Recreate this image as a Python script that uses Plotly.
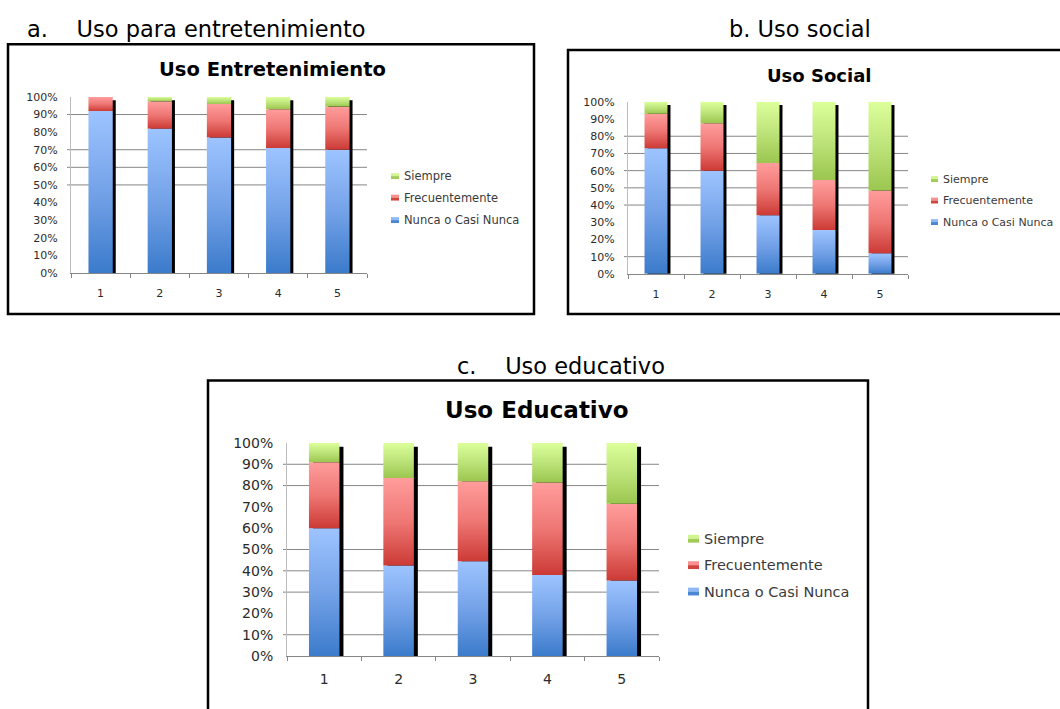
import plotly.graph_objects as go

# ---------------------------------------------------------------- data
categorias = ["1", "2", "3", "4", "5"]
series = ["Nunca o Casi Nunca", "Frecuentemente", "Siempre"]

entretenimiento_nunca = [92, 82, 77, 71, 70]
entretenimiento_frecuente = [8, 15.5, 19, 22, 24.5]
entretenimiento_siempre = [0, 2.5, 4, 7, 5.5]

social_nunca = [73, 60, 34, 25.5, 12]
social_frecuente = [20, 27.5, 30.5, 29, 36.5]
social_siempre = [7, 12.5, 35.5, 45.5, 51.5]

educativo_nunca = [60, 42.5, 44.5, 38, 35.5]
educativo_frecuente = [31, 41, 37.5, 43.5, 36]
educativo_siempre = [9, 16.5, 18, 18.5, 28.5]

# ---------------------------------------------------------------- style
W, H = 1060, 709
FONT = "DejaVu Sans"
TEXT = "#2b2b2b"
GRID = "#868686"
BAR_WIDTH = 0.41

# vertical gradients (bottom -> top) for each series
GRADIENTS = {
    "Nunca o Casi Nunca": [[0, "#3b7bcb"], [0.5, "#74a2e8"], [1, "#9dc4ff"]],
    "Frecuentemente": [[0, "#cc3a35"], [0.5, "#ee7774"], [1, "#ff9d9c"]],
    "Siempre": [[0, "#9bc64f"], [0.5, "#bde47a"], [1, "#dcff9a"]],
}
SWATCH = {
    "Nunca o Casi Nunca": ("#8fb8f6", "#4a86d2"),
    "Frecuentemente": ("#f7908e", "#d2453f"),
    "Siempre": ("#d2f68f", "#a2cc58"),
}


def px_x(p):
    return p / W


def px_y(p):
    return 1 - p / H


charts = [
    dict(
        header="a.\u00a0\u00a0\u00a0\u00a0Uso para entretenimiento", header_x=25, header_y=21,
        header_anchor="left",
        title="Uso Entretenimiento", title_xy=(272, 63), title_size=19.5,
        box=(8, 37, 534, 313),
        plot=(71, 91, 367, 271),
        values=[entretenimiento_nunca, entretenimiento_frecuente, entretenimiento_siempre],
        tick_size=11, legend_size=11.5,
        legend_x=391, legend_rows=(172, 194, 217), swatch=(8, 6),
        shadow_px=(3, 3.3), grid=[50, 60, 70, 90],
    ),
    dict(
        header="b. Uso social", header_x=727, header_y=21, header_anchor="left",
        title="Uso Social", title_xy=(819, 69), title_size=18,
        box=(568, 43, 1080, 313),
        plot=(628, 96, 908, 272),
        values=[social_nunca, social_frecuente, social_siempre],
        tick_size=11, legend_size=11,
        legend_x=931, legend_rows=(175, 197, 219), swatch=(7, 6),
        shadow_px=(3, 3.3), grid=[10, 40, 50, 60, 70, 80],
    ),
    dict(
        header="c.\u00a0\u00a0\u00a0\u00a0Uso educativo", header_x=455, header_y=366,
        header_anchor="left",
        title="Uso Educativo", title_xy=(537, 411), title_size=23,
        box=(208, 381, 868, 760),
        plot=(287, 445, 659, 663),
        values=[educativo_nunca, educativo_frecuente, educativo_siempre],
        tick_size=14, legend_size=14.5,
        legend_x=688, legend_rows=(543, 570, 597), swatch=(11, 8),
        shadow_px=(4, 4), grid=[10, 30, 40, 50, 80, 90],
    ),
]

fig = go.Figure()
shapes = []
annotations = []
layout_axes = {}

for n, c in enumerate(charts, start=1):
    xa = "x" if n == 1 else f"x{n}"
    ya = "y" if n == 1 else f"y{n}"
    left, top, right, bottom = c["plot"]
    cat_px = (right - left) / len(categorias)
    pct_px = (bottom - top) / 100
    dx = c["shadow_px"][0] / cat_px
    dy = c["shadow_px"][1] / pct_px
    half = BAR_WIDTH / 2

    # drop shadow behind each stacked column
    for i, cat in enumerate(categorias):
        xc = i + 1
        total = sum(v[i] for v in c["values"])
        x0, x1 = xc - half + dx, xc + half + dx
        y0, y1 = -1.5 / pct_px, total - dy
        fig.add_trace(go.Scatter(
            x=[x0, x1, x1, x0, x0], y=[y0, y0, y1, y1, y0],
            mode="lines", fill="toself", fillcolor="#000000",
            line=dict(width=0, color="rgba(0,0,0,0)"),
            xaxis=xa, yaxis=ya, hoverinfo="skip", showlegend=False,
        ))

    # stacked segments with a vertical gradient fill
    for i, cat in enumerate(categorias):
        xc = i + 1
        base = 0.0
        for name, vals in zip(series, c["values"]):
            v = vals[i]
            if v > 0:
                x0, x1 = xc - half, xc + half
                fig.add_trace(go.Scatter(
                    x=[x0, x1, x1, x0, x0], y=[base, base, base + v, base + v, base],
                    mode="lines", fill="toself",
                    fillgradient=dict(type="vertical", colorscale=GRADIENTS[name]),
                    line=dict(width=0, color="rgba(0,0,0,0)"),
                    xaxis=xa, yaxis=ya, name=name, showlegend=False,
                    hovertemplate=f"{name}<br>{cat}: {v}%<extra></extra>",
                ))
            base += v

    dom_x = [px_x(left), px_x(right)]
    dom_y = [px_y(bottom), px_y(top)]
    tfont = dict(family=FONT, size=c["tick_size"], color=TEXT)
    layout_axes["xaxis" if n == 1 else f"xaxis{n}"] = dict(
        domain=dom_x, anchor=ya, range=[0.5, 5.5],
        tickvals=[1, 2, 3, 4, 5], ticktext=categorias, ticks="",
        minor=dict(tickvals=[0.5, 1.5, 2.5, 3.5, 4.5, 5.5], ticks="outside",
                   ticklen=4, tickcolor=GRID, tickwidth=1, showgrid=False),
        showgrid=False, zeroline=False, showline=True, linecolor=GRID, linewidth=1,
        tickfont=tfont, ticklabelstandoff=10, fixedrange=True,
    )
    layout_axes["yaxis" if n == 1 else f"yaxis{n}"] = dict(
        domain=dom_y, anchor=xa, range=[0, 100], dtick=10, ticksuffix="%",
        ticks="", showgrid=False, zeroline=False, showline=True,
        linecolor="#bcbcbc", linewidth=1, tickfont=tfont,
        ticklabelstandoff=10, fixedrange=True,
    )

    # horizontal gridlines
    for g in c["grid"]:
        shapes.append(dict(
            type="line", xref=f"{xa} domain", yref=ya,
            x0=-4 / (right - left), x1=1, y0=g, y1=g,
            line=dict(color=GRID, width=1), layer="below",
        ))

    # chart frame
    bx0, by0, bx1, by1 = c["box"]
    shapes.append(dict(
        type="rect", xref="paper", yref="paper",
        x0=px_x(bx0), x1=px_x(bx1), y0=px_y(by1), y1=px_y(by0),
        line=dict(color="#000000", width=2.5), fillcolor="rgba(0,0,0,0)", layer="below",
    ))

    # header above the frame
    annotations.append(dict(
        text=c["header"], xref="paper", yref="paper",
        x=px_x(c["header_x"]), y=px_y(c["header_y"]),
        xanchor=c["header_anchor"], yanchor="middle", showarrow=False,
        font=dict(family=FONT, size=22.5, color="#000000"),
    ))

    # chart title
    tx, ty = c["title_xy"]
    annotations.append(dict(
        text=f"<b>{c['title']}</b>", xref="paper", yref="paper",
        x=px_x(tx), y=px_y(ty), xanchor="center", yanchor="middle", showarrow=False,
        font=dict(family=FONT, size=c["title_size"], color="#000000"),
    ))

    # legend: Siempre, Frecuentemente, Nunca o Casi Nunca (top to bottom)
    sw, sh = c["swatch"]
    lx = c["legend_x"]
    for name, ry in zip(reversed(series), c["legend_rows"]):
        light, dark = SWATCH[name]
        shapes.append(dict(
            type="rect", xref="paper", yref="paper",
            x0=px_x(lx), x1=px_x(lx + sw), y0=px_y(ry), y1=px_y(ry - sh / 2),
            line=dict(width=0), fillcolor=light,
        ))
        shapes.append(dict(
            type="rect", xref="paper", yref="paper",
            x0=px_x(lx), x1=px_x(lx + sw), y0=px_y(ry + sh / 2), y1=px_y(ry),
            line=dict(width=0), fillcolor=dark,
        ))
        annotations.append(dict(
            text=name, xref="paper", yref="paper",
            x=px_x(lx + sw + 3), y=px_y(ry), xanchor="left", yanchor="middle",
            showarrow=False,
            font=dict(family=FONT, size=c["legend_size"], color="#3a3a3a"),
        ))

fig.update_layout(
    width=W, height=H, margin=dict(l=0, r=0, t=0, b=0),
    paper_bgcolor="white", plot_bgcolor="rgba(0,0,0,0)",
    showlegend=False, shapes=shapes, annotations=annotations,
    **layout_axes,
)

fig.write_html("out.html")
